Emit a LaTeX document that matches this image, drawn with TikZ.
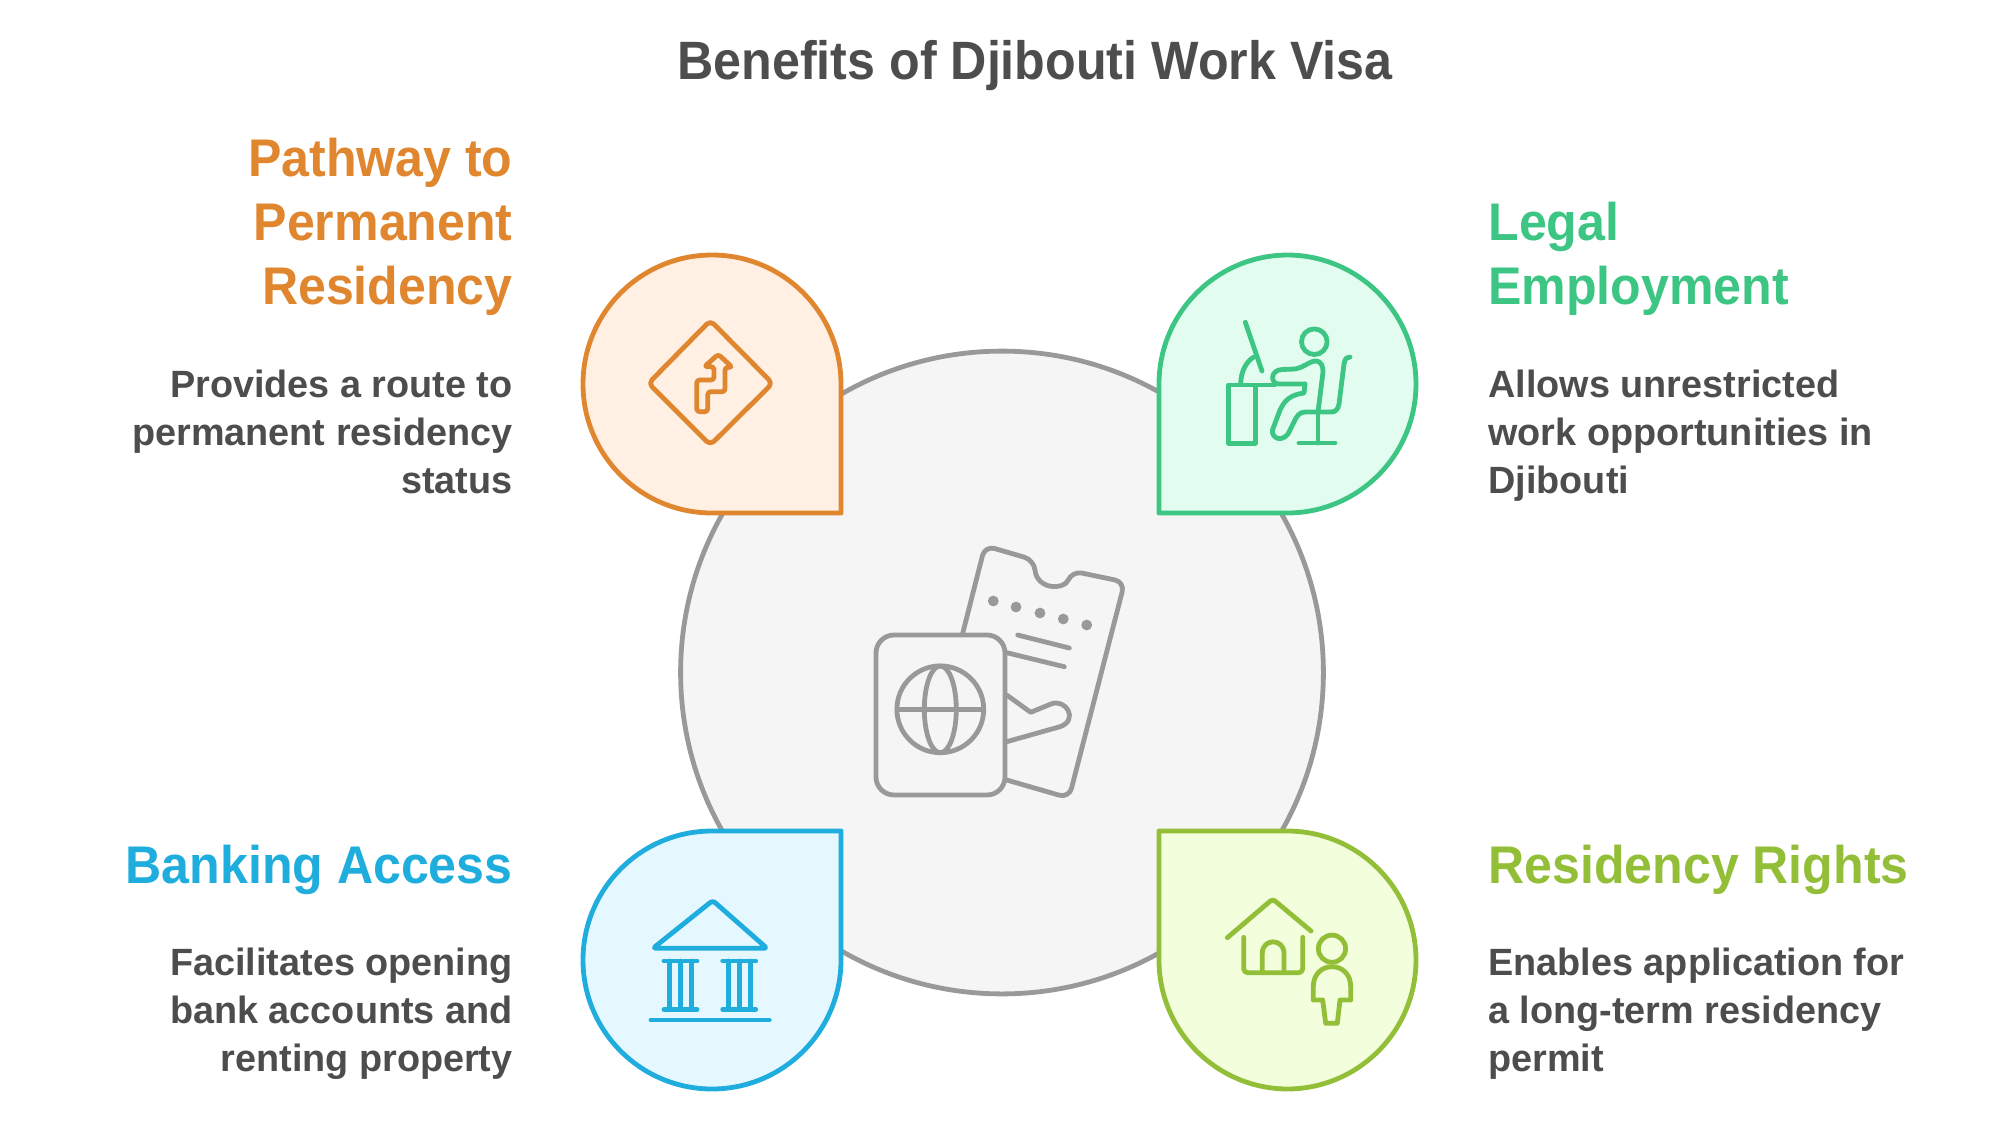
\documentclass[tikz,border=0pt]{standalone}
\usepackage{fontspec}
\setmainfont{Liberation Sans}
\newfontfamily\titlefont[FakeStretch=0.93]{Liberation Sans}
\newfontfamily\headfont[FakeStretch=0.945]{Liberation Sans}
\newfontfamily\bodyfont[FakeStretch=0.995]{Liberation Sans}
\usetikzlibrary{positioning}

\definecolor{inkgray}{HTML}{4D4D4D}
\definecolor{ringgray}{HTML}{999999}
\definecolor{coregray}{HTML}{F5F5F5}
\definecolor{pathorange}{HTML}{E0862F}
\definecolor{pathfill}{HTML}{FFF0E3}
\definecolor{legalgreen}{HTML}{3CC583}
\definecolor{legalfill}{HTML}{E2FDF0}
\definecolor{bankblue}{HTML}{1EADDC}
\definecolor{bankfill}{HTML}{E5F7FF}
\definecolor{rightslime}{HTML}{93BE38}
\definecolor{rightsfill}{HTML}{F3FEDD}

\begin{document}
\begin{tikzpicture}[x=0.5pt, y=-0.5pt,
                    drop/.style={line width=2.4pt, line join=round},
                    icon/.style={line width=2.4pt, line join=round, line cap=round},
                    title text/.style={font=\titlefont\bfseries\fontsize{27}{32}\selectfont, text=inkgray, inner sep=0pt},
                    head right/.style={font=\headfont\bfseries\fontsize{26.5}{32}\selectfont, align=right, inner sep=0pt, anchor=north east},
                    head left/.style={font=\headfont\bfseries\fontsize{26.5}{32}\selectfont, align=left, inner sep=0pt, anchor=north west},
                    body right/.style={font=\bodyfont\bfseries\fontsize{19}{24}\selectfont, text=inkgray, align=right, inner sep=0pt, anchor=north east},
                    body left/.style={font=\bodyfont\bfseries\fontsize{19}{24}\selectfont, text=inkgray, align=left, inner sep=0pt, anchor=north west}]

    \useasboundingbox (0,0) rectangle (1999,1142);

    \node [title text] (title) at (1035,66) {Benefits of Djibouti Work Visa};

    % centre disc and passport
    \draw [line width=2.4pt, draw=ringgray, fill=coregray] (1002,672.5) circle [radius=160.7pt];
    \draw [icon, draw=ringgray, rounded corners=9pt] (876,635) rectangle (1005,795);
    \draw [icon, draw=ringgray] (940.3,709.3) circle [radius=21.7pt];
    \draw [icon, draw=ringgray] (940.3,709.3) ellipse [x radius=8pt, y radius=21.7pt];
    \draw [icon, draw=ringgray] (897,709.3) -- (983.6,709.3);
    \draw [icon, draw=ringgray, rounded corners=5pt] (962.7,633.3) -- (985,545.7) -- (1034,560)
        .. controls (1037,590) and (1064,590) .. (1072,571) -- (1124.7,582) -- (1069,798) -- (1006.7,780);
    \foreach \x/\y in {993.3/601, 1016/607, 1040/613, 1063.3/619, 1086.7/625}
        \fill [ringgray] (\x,\y) circle [radius=2.7pt];
    \draw [icon, draw=ringgray] (1017.7,635) -- (1069.3,648);
    \draw [icon, draw=ringgray] (1006.7,652.7) -- (1064.3,666.7);
    \draw [icon, draw=ringgray] (1006.7,695) -- (1030.7,712.3) -- (1051,704)
        .. controls (1066,698) and (1079,720) .. (1060,726.7) -- (1006.7,741.7);

    % the four drops
    \draw [drop, draw=pathorange, fill=pathfill] (841,513) [rounded corners=64.5pt] -- (841,255) -- (583,255) -- (583,513) [sharp corners] -- cycle;
    \draw [drop, draw=legalgreen, fill=legalfill] (1159,513) [rounded corners=64.5pt] -- (1159,255) -- (1416,255) -- (1416,513) [sharp corners] -- cycle;
    \draw [drop, draw=bankblue, fill=bankfill] (841,831) [rounded corners=64.5pt] -- (841,1089) -- (583,1089) -- (583,831) [sharp corners] -- cycle;
    \draw [drop, draw=rightslime, fill=rightsfill] (1159,831) [rounded corners=64.5pt] -- (1159,1089) -- (1416,1089) -- (1416,831) [sharp corners] -- cycle;

    % road sign
    \draw [icon, draw=pathorange, rounded corners=2.5pt] (710.3,320.5) -- (772.5,383.3) -- (710.3,445) -- (648.5,383.3) -- cycle;
    \draw [icon, draw=pathorange, rounded corners=1.5pt] (696.7,411.7) -- (696.7,380) -- (714,380) -- (714,366.7) -- (704.3,366.7) -- (718.3,354.3)
        -- (732.3,367.3) -- (725,367.3) -- (725,391.7) -- (707.7,391.7) -- (707.7,411.7) -- cycle;

    % person at a desk
    \draw [icon, draw=legalgreen] (1245.3,322.3) -- (1262,371);
    \draw [icon, draw=legalgreen] (1240.7,384) .. controls (1240.7,372) and (1246,362) .. (1253.3,357.3);
    \draw [icon, draw=legalgreen] (1228.7,385) rectangle (1255.3,443.3);
    \draw [icon, draw=legalgreen] (1255.3,385) -- (1275,385);
    \draw [icon, draw=legalgreen] (1314.3,341.7) circle [radius=6.4pt];
    \draw [icon, draw=legalgreen] (1305,384) -- (1279,384) .. controls (1270,384) and (1270,370) .. (1282,369.5) -- (1295,369)
        .. controls (1305,367) and (1310,361) .. (1315,361) .. controls (1322,361) and (1323,367) .. (1323,372) -- (1318,412);
    \draw [icon, draw=legalgreen] (1305,384) -- (1304,393) .. controls (1290,395) and (1285,400) .. (1280,410) -- (1274,426)
        .. controls (1268,436) and (1280,444) .. (1288,434) -- (1296,418) .. controls (1299,413) and (1302,412) .. (1306,412)
        -- (1331,412) .. controls (1336,412) and (1338,409) .. (1339,404) -- (1344,364) .. controls (1345,358) and (1347,357) .. (1350,357);
    \draw [icon, draw=legalgreen] (1318,412) -- (1318,443);
    \draw [icon, draw=legalgreen] (1299,443) -- (1335,443);

    % bank
    \draw [icon, draw=bankblue, rounded corners=1.5pt] (712.7,900.5) -- (767,948.3) -- (653,948.3) -- cycle;
    \foreach \x in {664, 722.7} {
        \draw [icon, draw=bankblue] (\x,961) -- ++(33,0);
        \draw [icon, draw=bankblue] (\x,1009.3) -- ++(33,0);
        \draw [icon, draw=bankblue] (\x+5.5,961) -- ++(0,48.3);
        \draw [icon, draw=bankblue] (\x+16.5,961) -- ++(0,48.3);
        \draw [icon, draw=bankblue] (\x+27.5,961) -- ++(0,48.3);
    }
    \draw [icon, draw=bankblue] (651,1020) -- (769.3,1020);

    % house and resident
    \draw [icon, draw=rightslime, rounded corners=1.5pt] (1227.3,937.7) -- (1272.7,899) -- (1311,931);
    \draw [icon, draw=rightslime, rounded corners=2pt] (1243.7,937.3) -- (1243.7,972.7) -- (1302.7,972.7) -- (1302.7,937.3);
    \draw [icon, draw=rightslime] (1262.3,972) -- (1262.3,953.3) .. controls (1262.3,938) and (1284,938) .. (1284,953.3) -- (1284,972);
    \draw [icon, draw=rightslime] (1332,948.7) circle [radius=6.8pt];
    \draw [icon, draw=rightslime] (1313.3,1000) -- (1313.3,986.7) .. controls (1313.3,960) and (1350.7,960) .. (1350.7,986.7) -- (1350.7,1000)
        -- (1340,1000) -- (1337.3,1023.3) -- (1325.7,1023.3) -- (1322.7,1000) -- cycle;

    % captions
    \node [head right, text=pathorange] (pathHead) at (513,138) {Pathway to\\Permanent\\Residency};
    \node [body right] (pathBody) at (513,370) {Provides a route to\\permanent residency\\status};
    \node [head left, text=legalgreen] (legalHead) at (1488,202) {Legal\\Employment};
    \node [body left] (legalBody) at (1488,370) {Allows unrestricted\\work opportunities in\\Djibouti};
    \node [head right, text=bankblue] (bankHead) at (513,845) {Banking Access};
    \node [body right] (bankBody) at (513,948) {Facilitates opening\\bank accounts and\\renting property};
    \node [head left, text=rightslime] (rightsHead) at (1488,845) {Residency Rights};
    \node [body left] (rightsBody) at (1488,948) {Enables application for\\a long-term residency\\permit};

\end{tikzpicture}
\end{document}
